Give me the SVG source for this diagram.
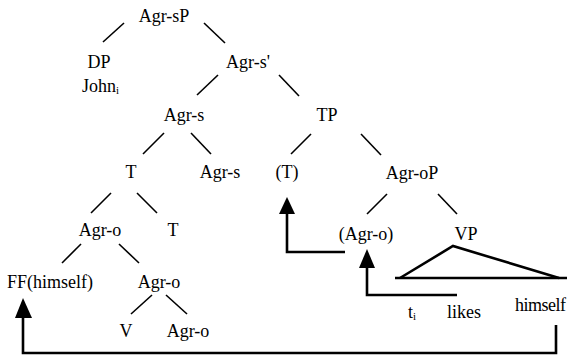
<svg xmlns="http://www.w3.org/2000/svg" width="569" height="359" viewBox="0 0 569 359" font-family="Liberation Serif, serif">
<style>
text{font-family:'Liberation Serif',serif;font-size:18px;fill:#000;text-anchor:middle}
.s{font-size:11px}
.e{stroke:#000;stroke-width:1.6;fill:none}
.m{stroke:#000;stroke-width:2.6;fill:none}
.h{fill:#000;stroke:none}
</style>
<rect width="569" height="359" fill="#fff"/>
<g id="connectors">
<line class="e" x1="124" y1="23" x2="103" y2="42"/>
<line class="e" x1="204" y1="23" x2="225" y2="43"/>
<line class="e" x1="218" y1="75" x2="197" y2="95"/>
<line class="e" x1="279" y1="75" x2="299" y2="96"/>
<line class="e" x1="164" y1="133" x2="143" y2="154"/>
<line class="e" x1="191" y1="133" x2="211" y2="154"/>
<line class="e" x1="311" y1="134" x2="291" y2="154"/>
<line class="e" x1="361" y1="134" x2="381" y2="155"/>
<line class="e" x1="111" y1="193" x2="91" y2="213"/>
<line class="e" x1="137" y1="193" x2="157" y2="213"/>
<line class="e" x1="387" y1="194" x2="367" y2="214"/>
<line class="e" x1="438" y1="194" x2="457" y2="214"/>
<line class="e" x1="81" y1="244" x2="62" y2="263"/>
<line class="e" x1="119" y1="244" x2="139" y2="263"/>
<line class="e" x1="152" y1="295" x2="131" y2="314"/>
<line class="e" x1="166" y1="295" x2="187" y2="314"/>
<polyline class="m" points="400,278 453,246 559,278"/>
<line class="m" x1="395" y1="278" x2="567" y2="278"/>
<polyline class="m" points="556,325 556,353 23,353 23,312"/>
<polygon class="h" points="23,298 15,318 32,318"/>
<polyline class="m" points="345,252 287,252 287,210"/>
<polygon class="h" points="287,197 279,214 295,214"/>
<polyline class="m" points="457,295 367,295 367,262"/>
<polygon class="h" points="367,249 359,268 375,268"/>
</g>
<g id="n-agrsP"><text x="164" y="22">Agr-sP</text></g>
<g id="n-dp"><text x="99" y="68">DP</text><text x="82" y="92" style="text-anchor:start">John<tspan class="s" dy="2">i</tspan></text></g>
<g id="n-agrs-bar"><text x="248" y="68">Agr-s'</text></g>
<g id="n-agrs"><text x="184" y="121">Agr-s</text></g>
<g id="n-tp"><text x="327" y="121">TP</text></g>
<g id="n-t"><text x="131" y="178">T</text></g>
<g id="n-agrs2"><text x="220" y="178">Agr-s</text></g>
<g id="n-t-paren"><text x="287" y="178">(T)</text></g>
<g id="n-agroP"><text x="412" y="179">Agr-oP</text></g>
<g id="n-agro"><text x="100" y="236">Agr-o</text></g>
<g id="n-t2"><text x="173" y="236">T</text></g>
<g id="n-agro-paren"><text x="366" y="240">(Agr-o)</text></g>
<g id="n-vp"><text x="466" y="240">VP</text></g>
<g id="n-ff"><text x="50" y="288">FF(himself)</text></g>
<g id="n-agro2"><text x="159" y="288">Agr-o</text></g>
<g id="n-v"><text x="126" y="337">V</text></g>
<g id="n-agro3"><text x="188" y="337">Agr-o</text></g>
<g id="n-ti"><text x="408" y="318" style="text-anchor:start">t<tspan class="s" dy="2">i</tspan></text></g>
<g id="n-likes"><text x="464" y="318">likes</text></g>
<g id="n-himself"><text x="515" y="311" style="text-anchor:start;letter-spacing:-0.5px">himself</text></g>
</svg>
